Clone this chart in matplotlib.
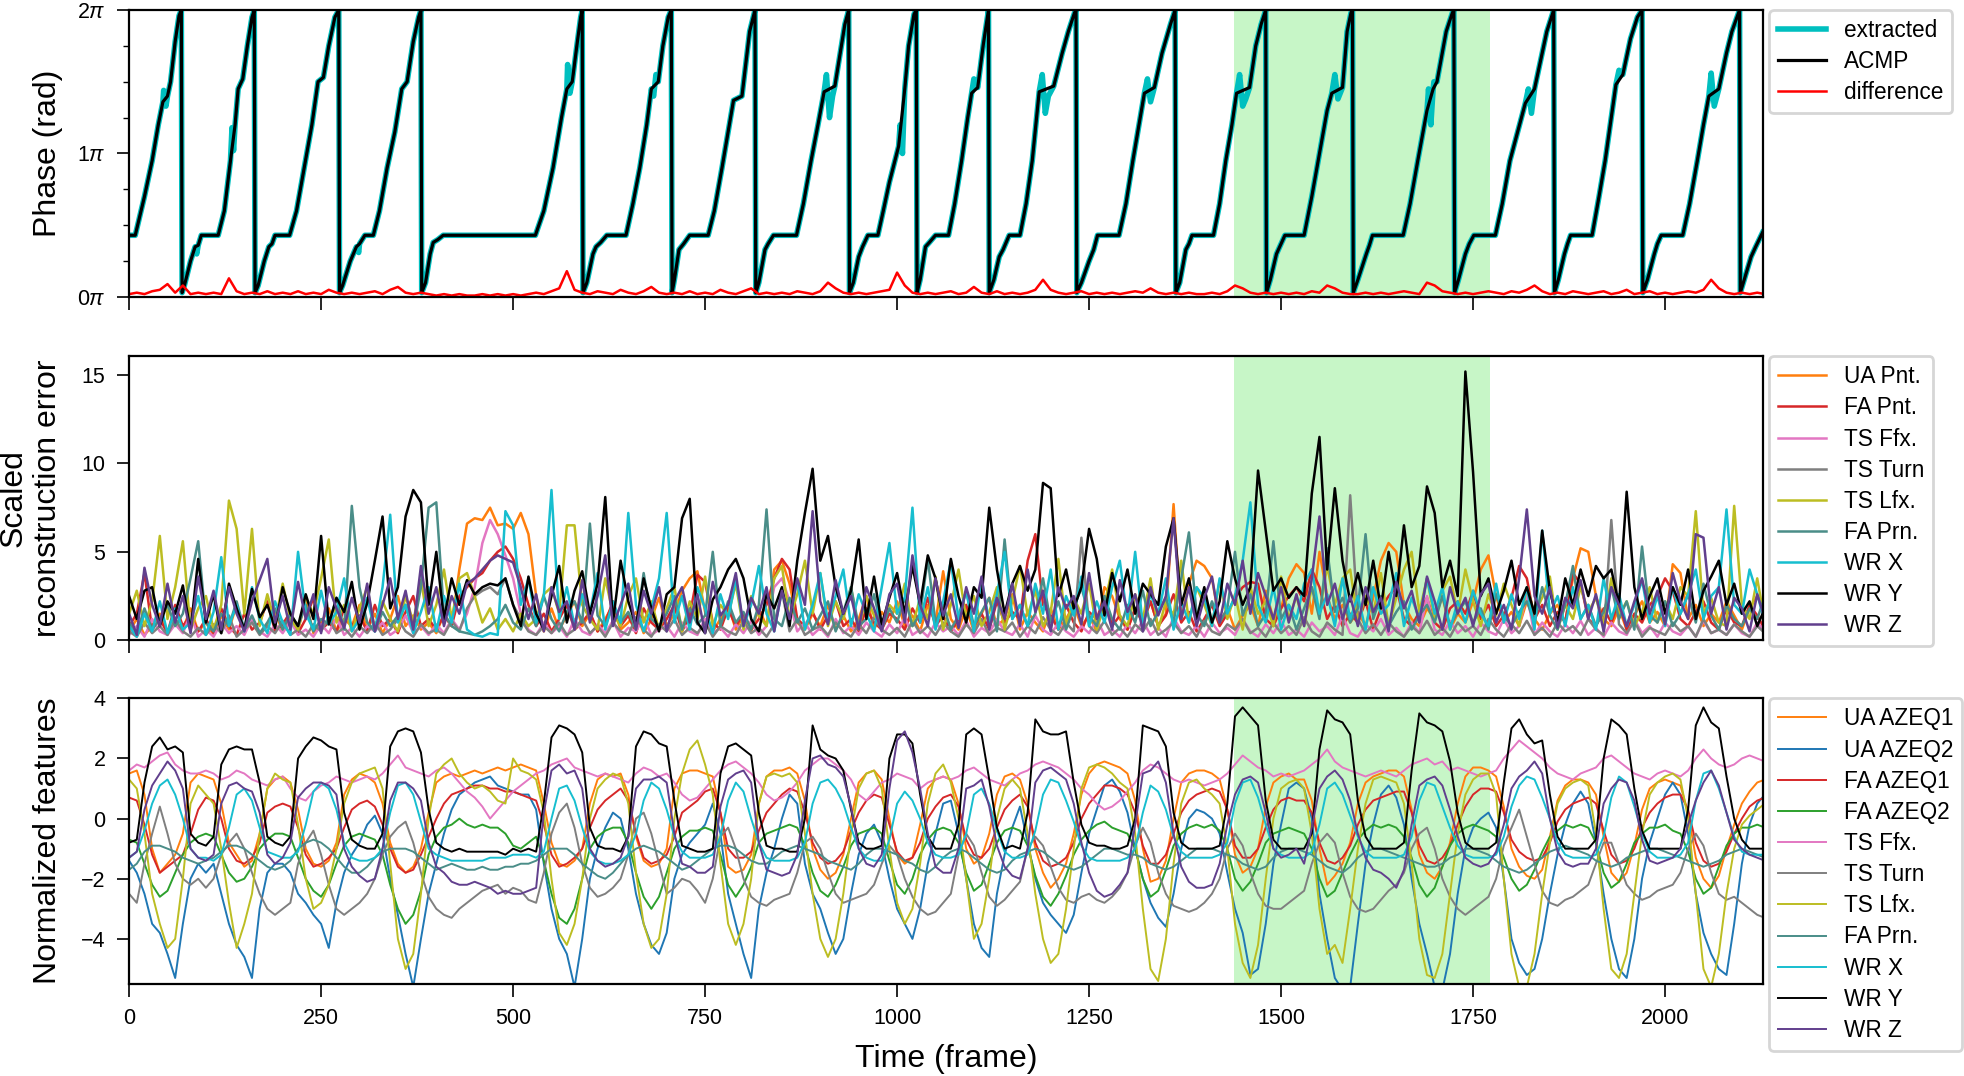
import numpy as np
import matplotlib
matplotlib.use("Agg")
import matplotlib.pyplot as plt
from matplotlib.ticker import MultipleLocator

plt.rcParams['font.family'] = ['Liberation Sans', 'DejaVu Sans']
plt.rcParams['mathtext.fontset'] = 'custom'
plt.rcParams['mathtext.rm'] = 'Liberation Sans'
plt.rcParams['mathtext.it'] = 'Liberation Sans:italic'

# sampling grid of the feature / error traces (every 10th frame)
FRAMES = np.arange(0, 2131, 10)
SPAN = (1439, 1772)   # highlighted segment

# ---- top panel: phase (in units of pi), knots of the ACMP sawtooth
ACMP_T = [0, 8, 20, 30, 38, 44, 50, 54, 60, 65, 68,
          69, 72, 80, 86, 90, 94, 116, 124, 132, 138, 142, 148, 154, 160, 163,
          164, 168, 176, 182, 186, 190, 209, 218, 228, 238, 246, 253, 260, 268, 273,
          274, 278, 288, 296, 300, 307, 318, 326, 336, 346, 355, 362, 370, 377, 380,
          381, 386, 392, 396, 402, 409, 529, 540, 552, 563, 570, 577, 583, 588, 590,
          591, 596, 604, 608, 614, 622, 647, 656, 665, 674, 680, 689, 695, 702, 706,
          707, 710, 716, 722, 730, 754, 762, 772, 780, 787, 798, 808, 815,
          816, 820, 828, 832, 839, 869, 878, 888, 897, 905, 919, 926, 932, 937,
          938, 943, 950, 955, 962, 975, 982, 990, 1002, 1010, 1015, 1022, 1025,
          1026, 1030, 1037, 1042, 1050, 1067, 1075, 1084, 1092, 1097, 1105, 1112, 1119,
          1120, 1126, 1133, 1138, 1146, 1160, 1168, 1176, 1185, 1204, 1215, 1223, 1231, 1233,
          1234, 1240, 1250, 1256, 1261, 1289, 1298, 1307, 1315, 1322, 1335, 1345, 1356, 1362,
          1363, 1368, 1376, 1380, 1384, 1412, 1420, 1428, 1436, 1442, 1459, 1467, 1474, 1480,
          1481, 1486, 1494, 1500, 1505, 1530, 1540, 1550, 1560, 1566, 1580, 1586, 1591, 1593,
          1594, 1600, 1611, 1615, 1619, 1659, 1668, 1678, 1690, 1698, 1703, 1715, 1723, 1725,
          1726, 1731, 1740, 1745, 1751, 1779, 1788, 1798, 1808, 1818, 1830, 1846, 1855,
          1856, 1861, 1869, 1873, 1877, 1905, 1914, 1922, 1930, 1936, 1945, 1955, 1964, 1970,
          1971, 1977, 1986, 1990, 1995, 2023, 2032, 2042, 2050, 2057, 2070, 2080, 2087, 2097,
          2098, 2103, 2112, 2118, 2126, 2127]
ACMP_V = [0.43, 0.43, 0.70, 0.95, 1.20, 1.36, 1.40, 1.50, 1.78, 1.96, 2.0,
          0.03, 0.08, 0.25, 0.35, 0.36, 0.43, 0.43, 0.60, 0.95, 1.20, 1.45, 1.52, 1.75, 1.95, 2.0,
          0.03, 0.08, 0.25, 0.35, 0.37, 0.43, 0.43, 0.60, 0.90, 1.20, 1.50, 1.53, 1.75, 1.95, 2.0,
          0.03, 0.08, 0.25, 0.35, 0.37, 0.43, 0.43, 0.60, 0.90, 1.15, 1.45, 1.50, 1.78, 1.95, 2.0,
          0.03, 0.10, 0.30, 0.38, 0.40, 0.43, 0.43, 0.60, 0.90, 1.25, 1.45, 1.50, 1.75, 1.95, 2.0,
          0.03, 0.10, 0.30, 0.35, 0.38, 0.43, 0.43, 0.65, 0.90, 1.20, 1.45, 1.50, 1.75, 1.95, 2.0,
          0.03, 0.12, 0.33, 0.37, 0.43, 0.43, 0.60, 0.90, 1.15, 1.37, 1.40, 1.85, 2.0,
          0.03, 0.10, 0.33, 0.37, 0.43, 0.43, 0.65, 0.95, 1.20, 1.43, 1.47, 1.70, 1.90, 2.0,
          0.03, 0.10, 0.28, 0.35, 0.43, 0.43, 0.60, 0.80, 1.05, 1.45, 1.75, 1.97, 2.0,
          0.03, 0.12, 0.35, 0.38, 0.43, 0.43, 0.65, 0.95, 1.25, 1.42, 1.46, 1.75, 2.0,
          0.03, 0.12, 0.28, 0.33, 0.43, 0.43, 0.65, 0.95, 1.43, 1.47, 1.70, 1.85, 1.98, 2.0,
          0.03, 0.10, 0.25, 0.33, 0.43, 0.43, 0.65, 0.95, 1.20, 1.42, 1.46, 1.70, 1.90, 2.0,
          0.03, 0.10, 0.33, 0.37, 0.43, 0.43, 0.65, 0.95, 1.20, 1.42, 1.46, 1.75, 1.90, 2.0,
          0.03, 0.12, 0.30, 0.37, 0.43, 0.43, 0.70, 1.00, 1.30, 1.42, 1.46, 1.85, 1.98, 2.0,
          0.03, 0.12, 0.30, 0.36, 0.43, 0.43, 0.65, 0.95, 1.30, 1.45, 1.50, 1.85, 1.98, 2.0,
          0.03, 0.12, 0.30, 0.37, 0.43, 0.43, 0.65, 0.95, 1.15, 1.35, 1.45, 1.85, 2.0,
          0.03, 0.12, 0.30, 0.37, 0.43, 0.43, 0.70, 0.95, 1.25, 1.48, 1.55, 1.80, 1.95, 2.0,
          0.03, 0.12, 0.30, 0.37, 0.43, 0.43, 0.65, 0.95, 1.20, 1.40, 1.45, 1.70, 1.85, 2.0,
          0.03, 0.12, 0.28, 0.35, 0.44, 0.45]
# extra wobble of the extracted phase around the ACMP curve
WOBBLE_T = [45, 48, 88, 134, 136, 299, 571, 574, 683, 686, 908, 912, 916, 1004, 1007,
            1100, 1189, 1193, 1197, 1326, 1330, 1446, 1450, 1454, 1570, 1574,
            1692, 1695, 1699, 1822, 1826, 1940, 2060, 2064]
WOBBLE_V = [1.44, 1.33, 0.30, 1.18, 1.02, 0.31, 1.62, 1.42, 1.40, 1.55, 1.55, 1.25, 1.40, 1.20, 1.00,
            1.52, 1.55, 1.28, 1.40, 1.52, 1.36, 1.55, 1.33, 1.38, 1.55, 1.38,
            1.45, 1.20, 1.50, 1.45, 1.28, 1.58, 1.56, 1.33]
DIFF = [0.02, 0.03, 0.02, 0.04, 0.05, 0.09, 0.03, 0.08, 0.02, 0.03,
        0.02, 0.03, 0.02, 0.13, 0.04, 0.02, 0.03, 0.02, 0.04, 0.02,
        0.03, 0.02, 0.04, 0.02, 0.03, 0.02, 0.05, 0.03, 0.02, 0.03,
        0.02, 0.03, 0.04, 0.02, 0.05, 0.07, 0.03, 0.02, 0.03, 0.02,
        0.01, 0.02, 0.01, 0.02, 0.01, 0.01, 0.02, 0.01, 0.02, 0.01,
        0.02, 0.01, 0.02, 0.03, 0.02, 0.04, 0.06, 0.18, 0.05, 0.03,
        0.02, 0.04, 0.03, 0.02, 0.05, 0.03, 0.02, 0.04, 0.07, 0.03,
        0.02, 0.03, 0.02, 0.04, 0.02, 0.03, 0.02, 0.05, 0.03, 0.02,
        0.04, 0.06, 0.02, 0.03, 0.02, 0.03, 0.02, 0.04, 0.03, 0.02,
        0.04, 0.10, 0.06, 0.03, 0.02, 0.03, 0.02, 0.03, 0.04, 0.05,
        0.17, 0.08, 0.03, 0.02, 0.03, 0.02, 0.03, 0.04, 0.02, 0.03,
        0.07, 0.03, 0.02, 0.04, 0.02, 0.03, 0.02, 0.03, 0.05, 0.12,
        0.05, 0.03, 0.02, 0.03, 0.04, 0.02, 0.03, 0.02, 0.03, 0.02,
        0.03, 0.04, 0.03, 0.06, 0.03, 0.02, 0.03, 0.02, 0.03, 0.02,
        0.02, 0.03, 0.02, 0.04, 0.08, 0.06, 0.03, 0.02, 0.03, 0.02,
        0.03, 0.02, 0.03, 0.02, 0.04, 0.03, 0.08, 0.06, 0.03, 0.02,
        0.02, 0.03, 0.02, 0.03, 0.02, 0.03, 0.04, 0.03, 0.02, 0.10,
        0.08, 0.04, 0.03, 0.02, 0.03, 0.02, 0.03, 0.04, 0.03, 0.02,
        0.04, 0.03, 0.05, 0.08, 0.04, 0.02, 0.03, 0.02, 0.04, 0.03,
        0.02, 0.03, 0.04, 0.02, 0.03, 0.05, 0.02, 0.03, 0.04, 0.02,
        0.03, 0.02, 0.03, 0.04, 0.03, 0.05, 0.12, 0.06, 0.03, 0.02,
        0.03, 0.02, 0.03, 0.02]

# ---- middle panel: scaled reconstruction error
ERR_LABELS = ["UA Pnt.", "FA Pnt.", "TS Ffx.", "TS Turn", "TS Lfx.", "FA Prn.", "WR X", "WR Y", "WR Z"]
ERR_UA_PNT = [0.5, 1.2, 0.3, 0.8, 1.5, 0.4, 1.0, 0.6, 1.8, 0.5,
              1.0, 0.3, 1.4, 0.6, 2.0, 0.5, 1.2, 0.4, 0.9, 1.6,
              0.5, 1.3, 0.6, 2.2, 0.4, 1.0, 1.8, 0.5, 1.2, 0.8,
              2.0, 0.6, 1.5, 0.4, 1.2, 2.5, 0.8, 1.4, 0.6, 1.0,
              0.4, 1.5, 0.8, 4.0, 6.6, 6.9, 6.8, 7.5, 6.5, 6.6,
              6.3, 7.2, 6.0, 2.5, 0.5, 1.8, 0.6, 1.4, 2.2, 0.8,
              1.5, 0.5, 1.2, 2.0, 0.6, 1.0, 1.6, 0.4, 1.2, 2.4,
              0.8, 1.5, 2.8, 3.5, 3.9, 1.6, 0.5, 1.2, 2.0, 0.6,
              1.4, 0.5, 1.8, 0.8, 4.0, 4.5, 3.2, 1.0, 0.6, 1.5,
              0.8, 2.0, 0.6, 1.4, 0.5, 1.2, 2.5, 0.6, 1.6, 1.0,
              2.2, 0.8, 1.4, 0.5, 2.0, 1.0, 3.9, 1.2, 0.6, 1.8,
              0.5, 1.5, 2.4, 0.8, 1.2, 2.6, 0.6, 1.6, 1.0, 0.5,
              1.8, 0.6, 1.2, 2.0, 0.8, 1.4, 0.5, 3.0, 2.5, 1.2,
              0.6, 1.8, 1.0, 2.2, 0.8, 1.5, 7.7, 1.2, 3.2, 4.5,
              4.2, 3.5, 1.0, 1.8, 0.6, 1.4, 2.0, 0.8, 2.8, 1.2,
              1.8, 3.5, 4.3, 3.8, 1.5, 5.0, 2.5, 1.2, 2.0, 1.0,
              1.6, 0.8, 2.4, 4.5, 5.5, 5.0, 2.0, 1.2, 0.8, 1.8,
              1.2, 2.5, 0.6, 1.5, 1.0, 2.2, 4.0, 4.8, 2.5, 1.0,
              1.6, 0.8, 2.2, 1.2, 0.6, 1.5, 2.0, 1.0, 3.5, 5.2,
              5.0, 2.5, 1.2, 0.8, 1.8, 0.6, 1.4, 2.2, 1.0, 1.6,
              0.8, 4.3, 3.8, 1.2, 2.0, 0.8, 1.5, 1.0, 2.2, 1.4,
              0.6, 1.8, 2.5, 2.0]
ERR_FA_PNT = [0.8, 1.5, 3.8, 0.6, 1.2, 0.4, 2.0, 0.8, 1.4, 0.5,
              1.2, 0.4, 1.8, 0.8, 0.3, 1.5, 0.6, 1.0, 2.2, 0.5,
              0.9, 1.6, 0.4, 1.2, 2.4, 0.6, 1.0, 0.5, 1.8, 0.8,
              1.4, 0.5, 2.0, 0.8, 1.2, 0.4, 1.6, 2.5, 0.8, 1.2,
              0.6, 1.4, 0.8, 2.5, 3.0, 3.5, 3.8, 4.5, 5.0, 5.3,
              4.6, 3.5, 2.0, 0.8, 1.5, 0.5, 1.2, 2.0, 0.6, 1.0,
              1.6, 0.5, 1.0, 2.2, 0.8, 1.4, 0.4, 1.8, 1.0, 0.6,
              1.2, 2.0, 0.5, 1.4, 3.7, 3.3, 1.0, 0.6, 1.8, 0.8,
              1.5, 0.6, 1.2, 2.0, 3.5, 4.6, 4.0, 1.2, 0.8, 1.6,
              0.6, 1.4, 2.2, 0.8, 1.2, 0.5, 1.8, 1.0, 0.6, 1.5,
              1.2, 0.6, 1.8, 1.0, 2.4, 0.8, 1.4, 0.5, 1.2, 2.0,
              0.8, 1.5, 0.6, 2.2, 1.0, 1.6, 1.2, 4.5, 6.0, 2.0,
              1.4, 0.6, 2.0, 1.0, 0.5, 1.6, 1.2, 2.5, 0.8, 1.4,
              0.6, 1.8, 1.0, 2.2, 0.8, 1.4, 2.6, 1.0, 1.6, 0.5,
              1.2, 2.0, 0.8, 1.5, 2.4, 3.0, 3.3, 3.2, 1.2, 0.8,
              1.8, 2.5, 3.0, 2.2, 4.0, 3.0, 1.2, 2.0, 0.8, 1.5,
              1.0, 2.2, 0.6, 1.8, 2.5, 3.0, 1.2, 0.8, 1.6, 2.4,
              1.0, 0.6, 1.8, 2.2, 1.5, 2.8, 1.2, 2.0, 0.8, 1.4,
              2.4, 4.2, 3.5, 1.2, 2.0, 0.8, 1.6, 1.0, 3.8, 3.2,
              1.2, 0.8, 1.8, 1.0, 2.2, 0.6, 1.5, 1.0, 2.0, 2.5,
              3.5, 2.8, 1.2, 0.8, 1.6, 2.2, 1.0, 0.6, 1.8, 1.0,
              0.8, 2.0, 1.4, 0.6]
ERR_TS_FFX = [0.3, 0.8, 0.2, 1.2, 0.5, 0.3, 0.9, 0.4, 1.5, 0.2,
              0.6, 0.2, 1.0, 0.4, 0.8, 0.3, 1.2, 0.5, 0.2, 0.9,
              0.4, 1.1, 0.3, 0.6, 0.2, 0.9, 0.4, 1.3, 0.3, 0.7,
              0.2, 0.8, 0.5, 1.0, 0.3, 0.6, 1.4, 0.4, 0.8, 0.3,
              0.9, 0.4, 1.2, 0.6, 1.5, 3.0, 5.5, 6.8, 6.0, 4.8,
              3.5, 1.5, 0.6, 0.3, 1.0, 0.4, 0.8, 0.2, 1.2, 0.5,
              0.3, 0.9, 0.4, 1.1, 0.2, 0.7, 0.5, 1.3, 0.3, 0.6,
              0.8, 0.2, 1.0, 0.5, 0.3, 1.2, 0.4, 0.7, 0.2, 0.9,
              0.4, 1.1, 0.3, 0.8, 3.0, 3.5, 2.2, 0.5, 1.0, 0.3,
              0.7, 0.2, 1.2, 0.4, 0.8, 0.3, 1.0, 0.5, 0.2, 0.9,
              0.4, 1.3, 0.3, 0.6, 0.2, 1.0, 0.5, 0.8, 0.3, 1.1,
              0.2, 0.7, 0.4, 1.2, 0.5, 0.3, 0.9, 0.2, 1.4, 0.6,
              0.3, 1.0, 0.5, 0.2, 0.8, 0.4, 1.2, 0.3, 0.6, 0.2,
              0.9, 0.4, 1.1, 0.3, 0.7, 0.2, 1.3, 0.5, 0.3, 0.8,
              0.2, 1.0, 0.4, 0.7, 0.3, 1.2, 0.5, 0.2, 0.9, 0.4,
              1.1, 0.3, 0.6, 0.2, 1.0, 0.5, 0.8, 0.3, 1.4, 0.4,
              0.2, 0.9, 0.5, 1.2, 0.3, 0.7, 0.2, 1.0, 0.4, 2.5,
              0.6, 0.3, 1.1, 0.4, 0.8, 0.2, 1.0, 0.5, 0.3, 1.2,
              0.4, 0.8, 2.6, 0.3, 1.0, 0.5, 0.2, 0.9, 0.4, 1.1,
              0.3, 0.7, 0.2, 1.0, 0.5, 0.3, 1.2, 0.4, 0.8, 0.2,
              1.0, 0.5, 0.3, 0.8, 0.2, 1.1, 0.4, 0.6, 0.3, 0.9,
              0.4, 0.2, 1.0, 0.5]
ERR_TS_TURN = [0.5, 0.2, 1.0, 0.4, 0.8, 0.3, 1.2, 0.5, 0.2, 0.7,
               0.3, 0.9, 0.4, 1.4, 0.2, 0.6, 1.0, 0.3, 0.8, 0.4,
               1.1, 0.3, 0.6, 0.2, 0.9, 0.5, 1.3, 0.4, 0.7, 0.2,
               0.8, 0.4, 1.0, 0.3, 0.6, 1.2, 0.5, 0.2, 0.9, 0.4,
               0.6, 0.3, 1.1, 0.5, 1.8, 2.5, 2.8, 3.0, 2.6, 3.5,
               2.0, 1.2, 0.5, 0.3, 0.8, 0.4, 1.0, 0.3, 0.6, 1.2,
               0.4, 0.8, 0.2, 1.0, 0.5, 0.3, 1.3, 0.6, 0.2, 0.9,
               0.5, 1.2, 0.3, 0.7, 0.4, 1.0, 0.2, 0.8, 0.5, 0.3,
               1.1, 0.4, 0.7, 0.2, 0.9, 2.8, 0.5, 1.2, 0.3, 0.6,
               0.8, 0.3, 1.0, 0.5, 0.2, 0.9, 0.4, 1.3, 0.6, 0.3,
               0.7, 0.2, 1.1, 0.4, 0.8, 0.3, 1.0, 0.5, 0.2, 0.9,
               0.4, 1.2, 0.3, 0.7, 0.5, 1.0, 0.2, 0.8, 0.4, 1.3,
               0.6, 0.3, 1.0, 0.5, 5.8, 0.8, 0.4, 1.1, 0.3, 0.7,
               0.2, 0.9, 0.5, 1.2, 0.3, 0.6, 1.0, 0.4, 0.8, 0.2,
               1.1, 0.5, 0.3, 0.9, 0.6, 1.2, 0.4, 0.7, 0.2, 1.0,
               0.4, 0.8, 0.3, 1.3, 0.5, 0.2, 1.0, 0.6, 0.3, 8.2,
               1.2, 0.4, 0.9, 0.3, 1.0, 0.5, 0.2, 0.8, 0.4, 1.1,
               0.3, 0.7, 0.2, 1.0, 0.5, 0.8, 0.3, 1.2, 0.6, 0.2,
               0.9, 0.4, 1.1, 0.3, 0.7, 0.2, 1.0, 0.5, 0.8, 0.3,
               1.2, 0.6, 0.3, 6.8, 0.9, 0.4, 1.1, 0.2, 0.7, 0.5,
               0.3, 1.0, 0.5, 0.8, 0.2, 1.2, 0.4, 0.6, 0.3, 0.9,
               0.5, 0.2, 0.8, 0.4]
ERR_TS_LFX = [1.5, 2.8, 0.8, 2.2, 5.9, 1.2, 3.0, 5.6, 0.6, 1.8,
              2.5, 0.6, 2.0, 7.9, 6.3, 1.5, 6.3, 0.8, 2.6, 1.0,
              3.2, 1.2, 0.6, 2.4, 1.5, 3.5, 5.7, 1.0, 2.0, 0.5,
              1.8, 3.0, 0.6, 2.2, 1.2, 0.5, 2.5, 1.0, 3.4, 0.8,
              2.0, 4.0, 1.2, 3.5, 3.8, 2.5, 1.0, 1.8, 0.6, 1.2,
              0.5, 1.5, 0.8, 1.2, 2.6, 3.0, 1.5, 6.5, 6.5, 2.0,
              1.2, 0.6, 3.5, 1.5, 0.8, 2.5, 3.5, 1.0, 2.2, 0.6,
              1.8, 3.0, 0.5, 2.2, 1.2, 3.6, 0.8, 2.0, 1.4, 3.2,
              0.6, 2.5, 1.4, 0.8, 3.5, 4.2, 1.2, 2.6, 4.5, 1.5,
              3.8, 0.8, 2.2, 1.2, 3.0, 0.6, 2.5, 1.4, 0.8, 2.0,
              1.5, 3.2, 0.8, 2.4, 1.2, 3.6, 0.6, 2.0, 4.0, 1.2,
              2.5, 0.8, 1.6, 3.0, 0.6, 2.2, 4.2, 1.4, 2.8, 0.8,
              1.6, 4.6, 0.8, 2.4, 1.5, 3.2, 0.6, 2.0, 4.0, 1.4,
              0.8, 2.6, 1.2, 3.5, 0.6, 2.2, 1.4, 4.5, 1.0, 3.0,
              2.0, 0.8, 3.4, 1.2, 2.6, 0.6, 3.0, 1.5, 2.2, 0.8,
              3.6, 1.2, 2.5, 0.8, 3.0, 1.5, 4.2, 2.0, 3.5, 4.0,
              1.0, 2.5, 1.5, 3.8, 0.8, 2.4, 4.0, 5.0, 1.6, 3.5,
              1.2, 2.8, 3.6, 1.5, 4.0, 2.2, 0.8, 2.6, 1.4, 3.2,
              2.0, 0.8, 3.0, 1.5, 2.4, 3.6, 0.6, 2.0, 1.2, 3.0,
              1.6, 2.4, 0.8, 3.5, 1.4, 2.2, 0.8, 1.6, 3.0, 1.0,
              2.2, 1.2, 3.0, 2.5, 7.3, 1.5, 2.4, 1.0, 0.8, 7.6,
              2.0, 1.2, 3.5, 1.0]
ERR_FA_PRN = [1.0, 0.4, 1.8, 0.6, 1.2, 2.0, 0.8, 1.5, 3.5, 5.6,
              1.0, 0.5, 1.5, 0.8, 2.2, 0.6, 1.4, 0.4, 1.0, 1.8,
              0.6, 1.5, 0.8, 2.0, 0.5, 1.2, 0.9, 2.4, 0.6, 7.6,
              3.0, 1.0, 0.5, 1.6, 0.8, 1.4, 2.0, 0.6, 3.0, 7.5,
              7.8, 1.5, 0.8, 0.5, 0.4, 0.3, 0.5, 0.8, 1.2, 2.0,
              1.0, 0.6, 1.8, 0.8, 2.5, 1.2, 0.5, 1.6, 2.2, 1.0,
              6.6, 1.4, 0.8, 2.0, 1.0, 1.6, 0.6, 3.8, 1.2, 0.8,
              1.5, 2.5, 0.6, 1.8, 0.9, 1.4, 5.0, 0.8, 2.2, 1.0,
              1.6, 0.6, 2.0, 7.4, 1.2, 0.8, 2.4, 1.0, 1.8, 0.6,
              1.4, 2.2, 0.5, 1.6, 3.0, 0.8, 1.2, 2.6, 0.6, 1.8,
              1.0, 2.4, 0.8, 1.5, 4.6, 1.0, 2.0, 0.6, 1.4, 2.8,
              0.8, 1.6, 2.4, 0.5, 5.7, 1.2, 2.0, 0.8, 1.5, 3.5,
              1.0, 2.2, 0.6, 1.8, 3.0, 1.4, 0.8, 2.5, 1.2, 0.6,
              2.0, 1.0, 2.8, 0.8, 1.6, 2.4, 1.0, 3.5, 6.1, 1.5,
              0.8, 2.2, 1.0, 1.8, 5.0, 1.4, 2.6, 0.8, 1.5, 5.6,
              1.2, 2.0, 0.6, 1.8, 3.0, 1.2, 5.2, 1.6, 2.4, 1.0,
              1.8, 6.0, 1.2, 2.5, 0.8, 1.6, 2.2, 0.6, 1.4, 2.0,
              1.0, 2.5, 0.8, 1.6, 2.2, 1.0, 1.8, 0.6, 2.6, 1.4,
              0.8, 1.6, 2.2, 1.0, 3.0, 1.4, 0.6, 2.0, 4.2, 1.2,
              2.0, 0.8, 1.6, 3.0, 1.2, 2.2, 0.6, 5.3, 1.4, 1.0,
              2.2, 0.8, 1.5, 2.6, 1.0, 3.2, 1.4, 0.6, 2.0, 1.2,
              0.8, 1.8, 1.2, 2.5]
ERR_WR_X = [0.8, 0.2, 1.5, 0.5, 2.2, 0.4, 1.8, 0.6, 1.0, 2.5,
            0.3, 1.6, 4.7, 0.8, 2.0, 0.5, 3.0, 1.2, 0.4, 2.2,
            1.0, 0.3, 5.0, 1.5, 0.6, 2.8, 0.9, 1.6, 3.5, 0.5,
            1.2, 2.4, 0.5, 3.0, 7.1, 1.0, 2.0, 0.4, 1.6, 3.0,
            0.5, 2.5, 1.0, 3.2, 0.6, 0.3, 0.2, 0.4, 0.3, 7.3,
            6.5, 2.0, 3.5, 1.0, 2.5, 8.5, 1.2, 3.0, 0.8, 2.6,
            1.5, 3.8, 0.6, 2.2, 1.0, 7.2, 2.0, 0.5, 1.8, 3.5,
            7.2, 1.0, 2.5, 0.6, 3.0, 1.8, 0.4, 2.6, 1.2, 3.5,
            0.8, 2.0, 4.2, 1.5, 0.5, 2.8, 1.2, 3.4, 0.6, 2.0,
            3.8, 1.0, 2.5, 4.0, 0.8, 2.6, 1.5, 0.5, 3.0, 5.5,
            1.5, 2.4, 7.5, 1.0, 3.0, 0.6, 2.2, 4.5, 1.2, 2.8,
            0.5, 3.5, 1.0, 2.6, 5.0, 1.2, 2.0, 0.8, 3.2, 1.5,
            4.0, 0.6, 2.5, 1.4, 3.6, 0.8, 2.2, 1.0, 3.0, 4.5,
            1.2, 5.0, 0.8, 2.6, 1.5, 3.5, 0.6, 2.2, 1.0, 3.0,
            2.4, 0.8, 3.5, 1.5, 2.5, 4.5, 7.8, 2.0, 1.0, 3.0,
            0.6, 2.0, 1.2, 3.2, 4.0, 1.5, 2.6, 0.8, 3.5, 1.2,
            2.5, 0.6, 3.0, 1.5, 2.0, 3.8, 0.8, 2.4, 1.2, 3.5,
            1.5, 3.0, 0.6, 2.2, 1.0, 2.8, 1.5, 0.8, 3.2, 1.0,
            2.6, 1.2, 3.0, 0.6, 6.2, 1.5, 2.5, 0.8, 3.0, 1.2,
            2.0, 0.6, 3.5, 1.2, 2.6, 0.8, 2.0, 3.4, 1.0, 2.5,
            0.8, 3.0, 1.5, 2.6, 4.0, 1.2, 2.5, 3.0, 7.4, 2.0,
            1.5, 4.0, 2.6, 1.0]
ERR_WR_Y = [2.5, 1.2, 2.8, 3.0, 0.8, 2.2, 1.5, 3.1, 0.5, 4.6,
            1.0, 2.6, 0.4, 3.2, 1.8, 0.6, 2.9, 1.3, 2.0, 0.7,
            3.0, 1.5, 0.8, 2.6, 1.2, 5.9, 0.9, 2.4, 1.6, 3.3,
            0.6, 2.1, 4.5, 7.0, 1.8, 3.0, 7.0, 8.5, 7.8, 2.0,
            5.0, 1.2, 3.5, 2.0, 3.4, 2.6, 3.0, 3.2, 3.1, 3.5,
            2.0, 0.8, 3.6, 1.5, 0.6, 2.5, 4.2, 1.0, 2.8, 3.9,
            1.5, 3.2, 8.1, 1.0, 4.5, 2.2, 0.8, 3.5, 1.8, 0.5,
            2.6, 3.0, 6.9, 8.0, 1.0, 0.4, 2.3, 3.0, 4.0, 4.6,
            3.5, 1.2, 0.5, 2.6, 1.8, 3.0, 0.8, 4.5, 7.2, 9.7,
            4.5, 5.9, 3.0, 1.5, 2.8, 5.7, 1.2, 3.6, 0.9, 2.4,
            3.8, 1.5, 4.2, 2.0, 4.8, 3.5, 1.2, 4.6, 2.5, 1.0,
            3.0, 2.4, 7.5, 4.0, 1.5, 3.2, 4.2, 2.8, 4.0, 8.9,
            8.6, 2.5, 4.0, 1.8, 3.0, 6.3, 4.6, 1.4, 3.8, 2.2,
            4.0, 1.5, 3.2, 2.6, 2.0, 5.3, 6.9, 2.0, 3.5, 1.2,
            3.0, 1.0, 2.2, 5.6, 3.5, 2.0, 3.0, 9.6, 6.2, 2.8,
            3.5, 2.4, 3.0, 2.5, 8.3, 11.5, 4.0, 8.6, 4.5, 2.2,
            3.8, 2.0, 4.5, 1.8, 5.0, 2.5, 6.5, 3.0, 4.2, 8.7,
            7.2, 3.0, 4.5, 2.5, 15.2, 9.5, 2.5, 3.5, 1.5, 2.8,
            4.5, 2.0, 3.0, 1.5, 6.2, 2.8, 1.0, 3.5, 2.0, 4.0,
            2.5, 4.2, 3.5, 4.0, 2.0, 8.4, 3.0, 1.2, 2.5, 3.5,
            1.5, 3.0, 2.0, 4.0, 1.2, 2.8, 3.6, 4.5, 2.0, 3.2,
            1.5, 2.2, 0.8, 1.8]
ERR_WR_Z = [1.5, 0.3, 4.1, 2.0, 0.8, 3.2, 1.0, 2.5, 0.4, 3.6,
            1.2, 2.8, 0.6, 3.0, 1.5, 0.5, 2.2, 3.4, 4.6, 1.0,
            2.5, 0.6, 3.3, 1.2, 2.6, 0.4, 3.0, 1.8, 0.7, 2.4,
            1.0, 3.2, 0.5, 2.0, 3.5, 1.2, 2.8, 0.6, 4.2, 1.5,
            3.0, 0.8, 2.5, 1.5, 3.2, 3.5, 4.0, 4.5, 4.8, 4.6,
            4.4, 3.0, 1.2, 2.6, 0.5, 3.0, 1.6, 2.2, 0.6, 3.4,
            1.0, 2.5, 4.8, 0.8, 2.0, 3.2, 0.6, 2.8, 1.5, 3.0,
            0.5, 2.2, 3.0, 1.0, 2.6, 0.4, 3.3, 1.4, 2.0, 3.8,
            0.8, 2.4, 1.5, 3.0, 0.5, 2.8, 1.2, 3.5, 2.0, 7.3,
            2.2, 0.9, 3.4, 1.5, 2.5, 0.6, 3.0, 1.8, 0.5, 2.6,
            3.2, 1.0, 4.8, 2.0, 0.8, 3.5, 1.4, 2.6, 0.7, 3.0,
            1.5, 3.6, 0.6, 2.4, 1.2, 3.2, 0.8, 4.0, 1.6, 2.8,
            0.5, 3.0, 1.8, 2.5, 0.9, 3.8, 1.2, 2.2, 0.6, 3.4,
            1.6, 2.6, 0.5, 3.0, 1.4, 2.5, 6.9, 1.2, 3.0, 0.8,
            2.4, 3.6, 1.0, 3.2, 2.0, 4.5, 1.5, 3.8, 2.5, 1.2,
            3.0, 1.0, 2.6, 0.8, 3.5, 7.0, 2.0, 3.2, 1.2, 2.5,
            0.8, 3.0, 1.6, 2.4, 0.5, 3.3, 1.8, 2.8, 1.0, 3.6,
            2.2, 0.6, 3.0, 1.5, 2.4, 0.8, 2.6, 3.2, 1.0, 2.0,
            0.6, 3.5, 7.4, 2.5, 1.5, 3.0, 0.7, 2.4, 1.8, 3.4,
            1.2, 2.6, 0.5, 3.0, 2.0, 0.8, 2.2, 3.5, 1.5, 2.8,
            0.9, 3.8, 2.2, 1.2, 6.0, 5.8, 1.5, 3.0, 0.6, 2.4,
            1.8, 0.5, 2.6, 1.2]

# ---- bottom panel: normalized features
FEAT_LABELS = ["UA AZEQ1", "UA AZEQ2", "FA AZEQ1", "FA AZEQ2", "TS Ffx.", "TS Turn",
               "TS Lfx.", "FA Prn.", "WR X", "WR Y", "WR Z"]
UA_AZEQ1 = [1.5, 1.6, 0.8, -1.0, -1.8, -1.5, -1.2, -0.5, 1.2, 1.5,
            1.4, 1.3, 0.5, -0.8, -1.2, -1.6, -1.4, -0.5, 1.0, 1.3,
            1.4, 1.2, 0.3, -1.0, -1.5, -1.6, -1.4, -0.8, 0.8, 1.3,
            1.5, 1.4, 1.2, 0.5, -0.8, -1.5, -1.8, -1.6, -1.0, 0.2,
            1.2, 1.4, 1.5, 1.4, 1.5, 1.6, 1.5, 1.6, 1.7, 1.6,
            1.7, 1.8, 1.7, 1.6, 0.5, -0.8, -1.5, -1.6, -1.4, -1.0,
            0.5, 1.3, 1.5, 1.4, 1.5, 0.8, -0.6, -1.4, -1.6, -1.5,
            -1.0, 1.0, 1.5, 1.6, 1.6, 1.5, 1.4, 0.2, -1.6, -1.8,
            -1.7, -1.2, 0.5, 1.4, 1.6, 1.6, 1.7, 1.5, 0.6, -1.0,
            -1.7, -2.0, -1.8, -1.2, 0.0, 1.2, 1.5, 1.6, 1.3, 0.0,
            -1.2, -1.5, -1.3, -0.2, 1.0, 1.3, 1.4, 1.3, 0.5, -1.0,
            -1.5, -1.3, -0.5, 0.8, 1.4, 1.5, 1.3, 0.5, -1.0, -1.8,
            -2.3, -2.0, -1.5, -0.5, 0.8, 1.5, 1.8, 1.9, 1.8, 1.7,
            1.5, 0.6, -1.0, -2.1, -2.0, -1.4, 0.0, 1.2, 1.5, 1.6,
            1.6, 1.5, 1.3, 0.3, -1.2, -1.8, -1.6, -1.0, 0.4, 1.2,
            1.4, 1.5, 1.3, 1.3, 0.6, -1.0, -2.2, -1.9, -1.5, -0.8,
            0.5, 1.2, 1.4, 1.5, 1.6, 1.6, 1.4, 0.3, -1.2, -1.8,
            -2.0, -1.6, -0.8, 0.5, 1.4, 1.7, 1.7, 1.6, 1.4, 0.4,
            -1.0, -1.6, -1.9, -2.0, -1.7, -0.6, 0.6, 1.1, 1.3, 1.3,
            1.2, 0.8, -0.6, -1.8, -2.1, -1.8, -0.9, 0.3, 1.0, 1.2,
            1.3, 1.2, 1.1, 0.2, -1.3, -2.0, -2.3, -1.9, -1.0, -0.2,
            0.5, 0.9, 1.2, 1.3]
UA_AZEQ2 = [-1.4, -1.8, -2.5, -3.5, -3.8, -4.5, -5.3, -3.5, -2.0, -1.5,
            -1.8, -1.5, -2.5, -3.5, -4.2, -4.6, -5.3, -3.0, -1.8, -1.5,
            -1.5, -1.8, -2.5, -2.8, -3.2, -3.5, -4.3, -2.8, -1.8, -1.2,
            -0.8, -0.2, 0.1, -0.5, -2.0, -3.2, -4.5, -5.6, -4.0, -2.5,
            -1.5, -0.5, 0.3, 0.8, 1.0, 1.2, 1.3, 1.4, 1.1, 1.0,
            0.9, 0.8, 0.8, 0.3, -1.5, -3.0, -4.0, -4.5, -5.6, -4.0,
            -2.0, -1.0, -0.3, 0.2, 0.0, -1.0, -2.5, -3.5, -4.2, -4.5,
            -3.8, -2.0, -1.2, -0.8, -0.5, -0.2, 0.5, -0.5, -2.5, -3.5,
            -4.5, -5.3, -3.0, -1.8, -1.0, 0.0, 0.8, 0.5, -1.5, -2.5,
            -3.0, -3.8, -4.5, -4.0, -2.5, -1.2, -0.5, -0.2, -0.8, -2.0,
            -3.0, -3.5, -4.0, -3.0, -1.5, -0.5, 0.5, 0.6, -0.5, -2.0,
            -3.5, -4.3, -4.6, -2.5, -1.2, -0.3, 0.4, -0.8, -2.0, -2.8,
            -3.2, -3.5, -3.8, -3.2, -1.8, -0.5, 0.3, 1.1, 1.3, 0.9,
            0.2, -1.0, -2.0, -2.8, -3.3, -3.6, -2.5, -1.0, 0.0, 0.3,
            0.2, 0.0, -0.5, -1.8, -3.0, -3.8, -5.2, -5.0, -3.5, -1.5,
            -0.2, 1.0, 1.2, 1.0, 0.0, -2.5, -4.0, -5.3, -5.7, -5.6,
            -3.5, -1.5, -0.2, 0.8, 1.1, 0.7, -0.2, -2.0, -3.5, -4.5,
            -5.6, -5.7, -4.5, -2.5, -1.0, -0.3, 0.0, 0.2, -0.3, -2.0,
            -4.0, -4.8, -5.2, -5.0, -4.0, -2.5, -1.2, -0.2, 0.5, 0.9,
            0.5, -0.8, -2.5, -4.0, -5.0, -5.3, -4.0, -2.0, -0.8, 0.0,
            0.8, 1.2, 0.8, -0.5, -2.5, -3.8, -4.5, -5.0, -5.2, -3.5,
            -1.5, -0.2, 0.5, 0.8]
FA_AZEQ1 = [0.7, 0.6, -0.2, -1.2, -1.8, -1.6, -1.4, -1.2, -0.5, 0.3,
            0.7, 0.6, 0.0, -1.0, -1.4, -1.5, -1.3, -0.8, 0.2, 0.4,
            0.5, 0.4, -0.3, -1.2, -1.6, -1.5, -1.3, -1.0, -0.3, 0.3,
            0.5, 0.6, 0.4, -0.2, -1.0, -1.6, -1.8, -1.7, -1.2, -0.6,
            0.0, 0.5, 0.8, 0.9, 1.0, 1.1, 1.1, 1.0, 1.0, 0.9,
            0.9, 0.8, 0.7, 0.6, -0.2, -1.2, -1.6, -1.5, -1.3, -1.0,
            -0.3, 0.3, 0.6, 0.8, 1.0, 0.6, -0.5, -1.3, -1.5, -1.4,
            -1.2, -0.6, 0.2, 0.4, 0.6, 0.9, 1.0, 0.2, -1.0, -1.3,
            -1.3, -1.1, -0.4, 0.2, 0.5, 0.8, 1.0, 0.9, 0.2, -0.8,
            -1.3, -1.5, -1.4, -1.1, -0.4, 0.2, 0.6, 0.8, 0.7, -0.2,
            -1.1, -1.4, -1.3, -0.8, 0.0, 0.4, 0.7, 0.8, 0.4, -0.7,
            -1.2, -1.3, -1.0, -0.3, 0.3, 0.6, 0.8, 0.4, -0.8, -1.4,
            -1.6, -1.5, -1.3, -0.8, 0.0, 0.5, 0.8, 1.1, 1.1, 1.0,
            0.8, 0.2, -0.9, -1.5, -1.5, -1.2, -0.5, 0.2, 0.6, 0.8,
            0.9, 1.0, 0.9, 0.3, -0.9, -1.3, -1.3, -1.0, -0.3, 0.3,
            0.6, 0.7, 0.6, 0.6, 0.2, -0.8, -1.4, -1.5, -1.3, -0.9,
            -0.2, 0.3, 0.6, 0.7, 0.8, 0.9, 0.9, 0.2, -0.9, -1.4,
            -1.5, -1.3, -0.9, -0.2, 0.4, 0.8, 1.0, 1.0, 0.9, 0.2,
            -0.7, -1.1, -1.3, -1.4, -1.3, -0.8, -0.1, 0.3, 0.5, 0.6,
            0.7, 0.5, -0.4, -1.2, -1.5, -1.4, -1.0, -0.3, 0.2, 0.5,
            0.7, 0.8, 0.8, 0.3, -0.8, -1.4, -1.6, -1.5, -1.1, -0.5,
            0.0, 0.4, 0.6, 0.7]
FA_AZEQ2 = [-0.7, -0.8, -1.5, -2.2, -2.6, -2.4, -1.8, -1.2, -0.8, -0.6,
            -0.5, -0.6, -1.2, -1.8, -2.1, -2.0, -1.6, -1.0, -0.7, -0.5,
            -0.5, -0.6, -1.3, -2.0, -2.4, -2.6, -2.2, -1.5, -0.9, -0.6,
            -0.5, -0.6, -0.7, -1.2, -2.2, -3.0, -3.5, -3.2, -2.4, -1.2,
            -0.6, -0.3, -0.2, 0.0, -0.2, -0.3, -0.2, -0.3, -0.3, -0.5,
            -0.9, -1.0, -0.8, -0.6, -1.4, -2.5, -3.3, -3.5, -3.0, -2.0,
            -1.0, -0.6, -0.4, -0.3, -0.3, -0.8, -1.8, -2.6, -3.0, -2.6,
            -1.8, -1.0, -0.6, -0.4, -0.4, -0.3, -0.4, -1.2, -2.2, -2.6,
            -2.2, -1.6, -0.8, -0.5, -0.4, -0.3, -0.2, -0.3, -0.9, -1.8,
            -2.4, -2.6, -2.2, -1.6, -0.9, -0.5, -0.4, -0.3, -0.5, -1.4,
            -2.2, -2.5, -2.0, -1.2, -0.7, -0.4, -0.3, -0.4, -0.8, -1.8,
            -2.4, -2.2, -1.5, -0.8, -0.4, -0.3, -0.4, -0.9, -1.9, -2.6,
            -2.9, -2.5, -1.9, -1.2, -0.7, -0.4, -0.2, -0.1, -0.3, -0.4,
            -0.5, -1.0, -2.0, -2.6, -2.4, -1.7, -0.9, -0.5, -0.3, -0.2,
            -0.3, -0.2, -0.4, -1.0, -2.0, -2.4, -2.1, -1.5, -0.8, -0.5,
            -0.4, -0.3, -0.4, -0.5, -1.0, -2.0, -2.6, -2.4, -1.8, -1.2,
            -0.7, -0.4, -0.2, -0.3, -0.2, -0.3, -0.6, -1.3, -2.2, -2.6,
            -2.3, -1.6, -0.9, -0.5, -0.3, -0.2, -0.3, -0.4, -0.6, -1.3,
            -2.0, -2.4, -2.2, -1.7, -1.1, -0.6, -0.4, -0.2, -0.3, -0.2,
            -0.3, -0.8, -1.8, -2.3, -2.1, -1.5, -0.8, -0.5, -0.3, -0.3,
            -0.2, -0.4, -0.5, -1.1, -2.0, -2.5, -2.3, -1.6, -0.9, -0.5,
            -0.3, -0.3, -0.2, -0.3]
TS_FFX = [1.6, 1.8, 1.7, 1.9, 2.1, 2.2, 1.8, 1.6, 1.5, 1.5,
          1.6, 1.5, 1.3, 1.4, 1.6, 1.5, 1.3, 1.2, 1.1, 1.3,
          1.4, 1.0, 0.7, 0.6, 0.9, 1.1, 1.2, 1.4, 1.3, 1.2,
          1.3, 1.4, 1.3, 1.5, 1.8, 2.1, 1.7, 1.6, 1.5, 1.4,
          1.6, 1.7, 1.5, 1.2, 0.9, 0.7, 0.4, 0.0, 0.3, 0.6,
          0.9, 1.1, 1.3, 1.5, 1.6, 1.8, 1.9, 2.0, 1.7, 1.6,
          1.5, 1.4, 1.5, 1.4, 1.3, 1.2, 1.5, 1.7, 1.6, 1.4,
          1.5, 1.2, 0.8, 0.6, 0.7, 1.0, 1.3, 1.6, 1.8, 1.9,
          1.7, 1.5, 1.2, 0.8, 0.6, 0.7, 0.9, 1.2, 1.6, 1.8,
          2.0, 2.0, 1.8, 1.6, 1.3, 0.8, 0.6, 0.9, 1.2, 1.3,
          1.5, 1.4, 1.3, 1.0, 1.2, 1.3, 1.4, 1.3, 1.4, 1.6,
          1.7, 1.5, 1.3, 1.2, 1.1, 1.3, 1.5, 1.6, 1.8, 1.9,
          1.8, 1.7, 1.5, 1.3, 1.0, 0.8, 0.5, 0.3, 0.4, 0.6,
          0.9, 1.2, 1.6, 1.8, 1.7, 1.5, 1.3, 1.2, 1.3, 1.2,
          1.1, 1.2, 1.3, 1.5, 1.8, 2.1, 1.9, 1.7, 1.6, 1.4,
          1.5, 1.4, 1.5, 1.6, 1.8, 2.0, 2.3, 1.9, 1.7, 1.6,
          1.5, 1.4, 1.5, 1.6, 1.5, 1.4, 1.6, 1.8, 1.9, 2.0,
          1.8, 1.9, 1.6, 1.7, 1.6, 1.5, 1.4, 1.5, 1.6, 2.0,
          2.3, 2.6, 2.4, 2.2, 2.0, 1.7, 1.5, 1.4, 1.3, 1.5,
          1.6, 1.7, 2.0, 2.1, 1.9, 1.7, 1.5, 1.4, 1.3, 1.5,
          1.6, 1.5, 1.4, 1.6, 2.0, 2.3, 2.0, 1.8, 1.7, 1.8,
          2.0, 2.1, 2.0, 1.9]
TS_TURN = [-2.5, -2.8, -1.5, -0.5, 0.4, -0.5, -1.5, -2.0, -2.2, -2.0,
           -2.3, -2.0, -1.2, -0.8, -0.5, -1.0, -1.8, -2.5, -3.0, -3.2,
           -3.0, -2.8, -1.5, -0.8, -0.4, -1.2, -2.2, -3.0, -3.2, -3.0,
           -2.8, -2.5, -2.0, -1.2, -0.6, -0.3, -0.1, -0.8, -1.8, -2.6,
           -3.0, -3.2, -3.3, -3.0, -2.8, -2.6, -2.4, -2.3, -2.2, -2.5,
           -2.3, -2.4, -2.7, -2.8, -1.8, -0.5, 0.2, 0.5, -0.3, -1.5,
           -2.3, -2.6, -2.5, -2.3, -2.0, -1.2, 0.0, 0.2, -0.5, -1.5,
           -2.5, -2.3, -2.0, -2.1, -2.4, -2.8, -2.0, -0.6, -0.3, -1.0,
           -2.0, -2.6, -2.8, -2.9, -2.7, -2.6, -2.5, -1.8, -0.8, -0.6,
           -1.0, -1.8, -2.5, -2.8, -2.7, -2.6, -2.5, -2.2, -1.5, -0.9,
           -1.2, -2.0, -2.6, -3.0, -3.2, -3.1, -2.8, -2.5, -1.2, -0.5,
           -0.9, -1.8, -2.6, -2.9, -2.7, -2.4, -2.1, -1.0, -0.6, -0.9,
           -1.6, -2.3, -2.7, -2.8, -2.6, -2.5, -2.7, -2.8, -2.6, -2.3,
           -1.8, -0.9, -0.3, -0.8, -1.8, -2.5, -2.9, -3.0, -3.1, -3.0,
           -2.8, -2.5, -2.0, -1.0, -0.5, -0.9, -1.8, -2.5, -2.9, -3.0,
           -3.0, -2.8, -2.6, -2.4, -1.5, -0.8, -0.5, -0.8, -1.8, -2.6,
           -3.0, -3.1, -3.0, -2.7, -2.4, -2.2, -1.8, -1.0, -0.5, -0.3,
           -1.0, -2.0, -2.6, -3.0, -3.2, -3.0, -2.8, -2.6, -2.0, -0.9,
           -0.3, 0.3, -0.6, -1.5, -2.4, -2.8, -2.9, -2.7, -2.6, -2.4,
           -2.2, -1.5, -0.8, -0.8, -1.5, -2.2, -2.5, -2.7, -2.6, -2.4,
           -2.3, -2.2, -1.8, -1.0, -0.5, -0.9, -1.8, -2.5, -2.7, -2.6,
           -2.8, -3.0, -3.2, -3.3]
TS_LFX = [1.3, 1.0, -0.5, -2.5, -3.5, -4.3, -4.0, -2.0, 0.5, 1.1,
          0.8, 0.5, -1.0, -2.8, -4.3, -3.5, -2.5, -0.5, 1.0, 1.5,
          1.3, 1.2, -0.2, -2.0, -3.0, -2.8, -2.2, -1.0, 0.5, 1.2,
          1.5, 1.6, 1.7, 1.0, -1.5, -4.0, -5.0, -4.5, -2.5, 0.0,
          1.5, 1.8, 2.0, 1.5, 1.2, 1.0, 1.1, 0.9, 0.6, 0.5,
          2.0, 1.6, 1.5, 1.3, 0.2, -2.0, -3.8, -4.2, -3.5, -2.0,
          0.0, 1.0, 1.3, 1.5, 1.4, 0.5, -1.8, -3.5, -4.3, -4.0,
          -2.5, 0.0, 1.5, 2.3, 2.6, 1.8, 0.8, -1.5, -3.5, -4.2,
          -3.5, -2.0, 0.5, 1.4, 1.5, 1.4, 1.5, 1.2, -0.5, -2.5,
          -4.0, -4.6, -4.0, -2.5, -0.5, 1.0, 1.5, 1.6, 1.0, -1.0,
          -2.8, -3.5, -3.0, -1.5, 0.5, 1.5, 1.8, 1.2, 0.0, -2.0,
          -4.0, -3.5, -2.0, 0.0, 1.0, 1.3, 1.0, -0.5, -2.5, -4.0,
          -4.8, -4.5, -3.0, -1.0, 1.0, 1.7, 1.8, 1.7, 1.5, 1.2,
          1.0, -0.5, -3.0, -5.0, -5.4, -4.0, -1.5, 0.5, 1.2, 1.3,
          1.0, 0.8, 0.5, -1.0, -3.5, -4.8, -5.3, -4.2, -2.0, 0.0,
          1.0, 1.2, 1.3, 1.0, -0.5, -3.0, -4.5, -4.2, -4.8, -3.0,
          -1.0, 0.5, 1.3, 1.4, 1.3, 1.2, 0.5, -1.5, -4.0, -5.2,
          -5.3, -4.5, -2.5, -0.5, 0.8, 1.3, 1.5, 1.5, 0.8, -2.0,
          -4.5, -5.6, -5.6, -4.5, -2.5, -0.8, 0.5, 1.0, 1.2, 1.3,
          1.1, -0.5, -3.0, -5.0, -5.3, -4.5, -2.5, -0.5, 0.8, 1.2,
          1.4, 1.5, 1.3, 0.0, -2.5, -5.0, -5.6, -4.5, -2.5, -1.0,
          -0.2, 0.1, 0.3, 0.5]
FA_PRN = [-1.7, -1.5, -1.1, -0.9, -0.9, -1.0, -1.1, -1.3, -1.4, -1.5,
          -1.4, -1.3, -1.1, -0.9, -0.9, -1.0, -1.2, -1.4, -1.6, -1.7,
          -1.6, -1.4, -1.0, -0.8, -0.7, -0.8, -1.0, -1.3, -1.6, -1.8,
          -1.8, -1.6, -1.3, -1.1, -1.0, -1.0, -1.0, -1.1, -1.3, -1.5,
          -1.7, -1.6, -1.5, -1.6, -1.7, -1.7, -1.6, -1.7, -1.7, -1.6,
          -1.6, -1.5, -1.5, -1.4, -1.2, -1.0, -1.0, -1.0, -1.2, -1.5,
          -1.7, -1.9, -2.0, -1.8, -1.5, -1.2, -1.0, -0.9, -1.0, -1.1,
          -1.3, -1.5, -1.7, -1.6, -1.4, -1.2, -1.0, -0.9, -0.9, -1.0,
          -1.2, -1.4, -1.5, -1.5, -1.3, -1.1, -1.0, -0.9, -1.0, -1.1,
          -1.2, -1.4, -1.5, -1.6, -1.7, -1.5, -1.2, -1.0, -1.0, -1.1,
          -1.2, -1.4, -1.5, -1.7, -1.8, -1.6, -1.3, -1.1, -1.0, -1.1,
          -1.3, -1.5, -1.7, -1.8, -1.7, -1.4, -1.2, -1.1, -1.0, -1.1,
          -1.3, -1.5, -1.6, -1.7, -1.6, -1.4, -1.2, -1.0, -1.0, -1.1,
          -1.2, -1.2, -1.3, -1.5, -1.6, -1.7, -1.6, -1.4, -1.2, -1.0,
          -1.0, -1.0, -1.1, -1.2, -1.3, -1.5, -1.6, -1.7, -1.6, -1.3,
          -1.1, -1.0, -1.0, -1.1, -1.2, -1.4, -1.6, -1.7, -1.8, -1.6,
          -1.3, -1.1, -1.0, -1.0, -1.1, -1.2, -1.3, -1.4, -1.5, -1.6,
          -1.6, -1.5, -1.3, -1.2, -1.0, -1.0, -1.1, -1.2, -1.4, -1.6,
          -1.7, -1.8, -1.7, -1.5, -1.3, -1.1, -1.0, -0.9, -1.0, -1.1,
          -1.2, -1.4, -1.5, -1.6, -1.5, -1.3, -1.2, -1.1, -1.0, -1.0,
          -1.1, -1.2, -1.3, -1.4, -1.5, -1.6, -1.5, -1.4, -1.2, -1.1,
          -1.0, -1.1, -1.2, -1.3]
WR_X = [-1.3, -1.1, -0.4, 0.5, 1.1, 1.3, 0.8, 0.0, -1.0, -1.3,
        -1.3, -1.4, -1.2, -0.3, 0.8, 1.0, 0.6, -0.3, -1.1, -1.2,
        -1.3, -1.3, -1.1, -0.2, 0.9, 1.2, 1.0, 0.3, -0.8, -1.3,
        -1.4, -1.4, -1.3, -1.0, 0.2, 1.1, 1.2, 0.8, -0.1, -1.0,
        -1.2, -1.3, -1.4, -1.4, -1.4, -1.4, -1.4, -1.3, -1.3, -1.3,
        -1.2, -1.2, -1.2, -1.3, -1.1, 0.0, 1.0, 1.1, 0.6, -0.3,
        -1.1, -1.4, -1.5, -1.5, -1.4, -1.2, -0.5, 0.6, 1.2, 1.0,
        0.3, -0.6, -1.1, -1.3, -1.3, -1.3, -1.2, -0.6, 0.6, 1.2,
        0.9, 0.0, -0.8, -1.3, -1.4, -1.4, -1.4, -1.3, -0.8, 0.5,
        1.2, 1.3, 1.0, 0.5, -0.3, -1.0, -1.3, -1.4, -1.4, -0.7,
        0.5, 0.9, 0.6, 0.0, -0.8, -1.2, -1.3, -1.3, -1.2, -0.5,
        0.8, 1.0, 0.5, -0.4, -1.1, -1.3, -1.3, -1.2, -0.4, 0.8,
        1.3, 1.2, 0.6, -0.1, -0.9, -1.3, -1.4, -1.4, -1.4, -1.4,
        -1.3, -1.0, 0.2, 1.1, 0.9, 0.3, -0.6, -1.1, -1.3, -1.3,
        -1.3, -1.3, -1.2, -0.8, 0.5, 1.2, 1.3, 0.7, -0.2, -1.0,
        -1.2, -1.3, -1.3, -1.3, -1.1, -0.2, 1.0, 1.2, 0.8, 0.1,
        -0.6, -1.1, -1.3, -1.3, -1.3, -1.3, -1.2, -0.6, 0.6, 1.2,
        1.1, 0.4, -0.3, -0.9, -1.2, -1.3, -1.3, -1.3, -1.2, -0.6,
        0.4, 1.1, 1.4, 1.3, 0.7, 0.0, -0.8, -1.2, -1.3, -1.3,
        -1.3, -1.2, -0.6, 0.7, 1.4, 1.2, 0.4, -0.5, -1.1, -1.3,
        -1.3, -1.3, -1.2, -0.8, 0.6, 1.5, 1.6, 1.0, 0.2, -0.6,
        -1.1, -1.2, -1.2, -1.2]
WR_Y = [-0.8, -0.7, 1.2, 2.4, 2.7, 2.3, 2.4, 2.2, -0.5, -0.8,
        -0.9, -0.6, 1.8, 2.3, 2.4, 2.3, 2.3, 1.2, -0.6, -0.8,
        -0.9, -0.6, 2.0, 2.4, 2.7, 2.6, 2.4, 2.3, 0.2, -0.7,
        -0.9, -1.0, -1.0, -0.5, 2.4, 2.9, 3.0, 2.9, 2.2, 0.3,
        -0.8, -1.0, -1.1, -1.0, -1.1, -1.1, -1.1, -1.1, -1.1, -1.2,
        -1.0, -1.1, -1.0, -1.1, 0.5, 2.7, 3.1, 3.0, 2.8, 2.2,
        -0.3, -0.9, -1.0, -1.0, -1.1, -0.6, 2.4, 2.9, 2.8, 2.5,
        2.4, 0.6, -0.9, -1.0, -1.1, -1.1, -1.0, 1.5, 2.4, 2.5,
        2.3, 2.1, 0.2, -0.9, -1.0, -1.0, -1.1, -1.1, 0.0, 3.1,
        2.3, 2.1, 2.0, 1.6, 0.3, -0.8, -1.0, -1.0, -0.9, 2.0,
        2.8, 2.8, 2.5, 0.8, -0.6, -1.0, -1.0, -1.0, -0.2, 2.8,
        3.0, 2.8, 1.3, -0.3, -1.0, -0.9, -1.0, 0.2, 3.3, 2.9,
        2.8, 2.8, 2.9, 1.2, -0.2, -0.8, -0.9, -0.9, -1.0, -1.0,
        -0.9, 0.0, 3.1, 3.0, 2.9, 2.4, 0.2, -0.8, -1.0, -1.0,
        -1.0, -1.0, -0.9, 0.5, 3.4, 3.7, 3.4, 3.1, 0.6, -0.7,
        -1.0, -1.0, -1.0, -1.0, -0.5, 2.3, 3.6, 3.3, 3.2, 2.8,
        0.6, -0.6, -1.0, -1.0, -1.0, -1.0, -0.8, 1.6, 3.5, 3.2,
        3.1, 2.9, 1.9, 0.2, -0.8, -1.0, -1.0, -1.0, -0.8, 1.2,
        3.0, 3.3, 2.8, 2.5, 2.6, 0.8, -0.6, -1.0, -1.0, -1.0,
        -1.0, -0.7, 2.0, 3.3, 3.1, 2.8, 1.0, -0.4, -1.0, -1.0,
        -1.0, -1.0, -1.0, 0.3, 3.1, 3.7, 3.2, 3.0, 1.4, 0.0,
        -0.7, -1.0, -1.0, -1.0]
WR_Z = [-1.3, -1.1, 0.3, 1.1, 1.5, 1.9, 1.6, 1.0, -1.0, -1.3,
        -1.4, -1.2, 0.5, 1.1, 1.2, 1.0, 0.9, 0.2, -1.2, -1.5,
        -1.3, -0.8, 0.7, 1.0, 1.2, 1.2, 1.1, 0.8, -1.0, -1.6,
        -1.9, -2.1, -2.0, -1.0, 0.6, 1.2, 1.2, 1.0, 0.6, -0.8,
        -1.6, -1.8, -2.1, -2.2, -2.2, -2.1, -2.2, -2.3, -2.5, -2.4,
        -2.5, -2.5, -2.4, -2.3, 0.2, 1.6, 1.8, 1.5, 1.6, 1.0,
        -1.0, -1.4, -1.6, -1.5, -1.3, -0.6, 1.0, 1.3, 1.3, 1.4,
        1.2, -0.5, -1.5, -1.6, -1.8, -1.8, -1.6, 0.4, 1.3, 1.5,
        1.6, 1.2, -0.8, -1.7, -1.8, -1.9, -1.8, -1.2, 0.6, 2.0,
        2.1, 1.8, 1.7, 1.4, 0.4, -1.0, -1.5, -1.6, -1.2, 1.0,
        2.6, 2.9, 2.2, 1.0, -0.5, -1.6, -1.8, -1.8, -1.0, 1.0,
        1.1, 1.3, 0.4, -0.9, -1.6, -1.9, -2.0, -1.0, 1.2, 1.6,
        1.7, 1.5, 1.3, 0.5, -0.8, -1.8, -2.4, -2.6, -2.5, -2.2,
        -1.8, -0.2, 1.5, 1.6, 1.9, 1.2, -0.5, -1.6, -2.1, -2.3,
        -2.3, -2.2, -1.5, -0.2, 0.8, 1.3, 1.4, 1.2, 0.2, -1.0,
        -1.3, -1.2, -1.0, -1.5, -0.3, 1.0, 1.4, 1.6, 1.3, 0.6,
        -0.5, -1.3, -1.7, -1.8, -2.0, -2.3, -1.7, -0.2, 1.1, 1.3,
        1.4, 1.1, 0.3, -0.6, -1.3, -1.5, -1.6, -1.5, -1.1, -0.2,
        1.0, 1.4, 1.6, 1.9, 1.5, 0.0, -1.1, -1.5, -1.6, -1.5,
        -1.5, -1.0, 0.5, 1.0, 1.3, 1.2, 0.6, -0.7, -1.4, -1.5,
        -1.4, -1.3, -1.0, -0.2, 0.6, 1.2, 1.6, 1.1, 0.2, -0.7,
        -1.0, -1.2, -1.3, -1.4]

ERR_COLORS = ["#ff7f0e", "#d62728", "#e377c2", "#7f7f7f", "#bcbd22",
              "#4a8d88", "#17becf", "black", "#613f8d"]
FEAT_COLORS = ["#ff7f0e", "#1f77b4", "#d62728", "#2ca02c", "#e377c2", "#7f7f7f",
               "#bcbd22", "#4a8d88", "#17becf", "black", "#613f8d"]


def style(ax):
    for s in ax.spines.values():
        s.set_linewidth(1.6)
    ax.tick_params(which="major", direction="out", length=9, width=1.2,
                   labelsize=15.5, pad=8)
    ax.tick_params(which="minor", direction="out", length=4.5, width=1.0)
    ax.axvspan(SPAN[0], SPAN[1], color="lightgreen", alpha=0.5, lw=0, zorder=0)
    ax.yaxis.set_label_coords(-0.0404, 0.5)


def legend(ax):
    leg = ax.legend(loc="upper left", bbox_to_anchor=(1.004, 1.0), borderaxespad=0,
                    fontsize=16.3, labelspacing=0.36, handlelength=2.1)
    leg.get_frame().set_linewidth(2)
    leg.get_frame().set_edgecolor("0.8")


def main():
    fig = plt.figure(figsize=(19.65, 10.76), dpi=100)
    ax1 = fig.add_axes([0.0657, 0.724, 0.8313, 0.2667])
    ax2 = fig.add_axes([0.0657, 0.405, 0.8313, 0.264], sharex=ax1)
    ax3 = fig.add_axes([0.0657, 0.0855, 0.8313, 0.2655], sharex=ax1)

    # phase panel
    ext = sorted(zip(ACMP_T + WOBBLE_T, ACMP_V + WOBBLE_V))
    ax1.plot([p[0] for p in ext], [p[1] for p in ext], color="c", lw=4, label="extracted")
    ax1.plot(ACMP_T, ACMP_V, color="black", lw=2.3, label="ACMP")
    ax1.plot(FRAMES, DIFF, color="red", lw=1.8, label="difference")
    ax1.set_ylim(0, 2)
    ax1.set_yticks([0, 1, 2])
    ax1.set_yticklabels([r"$0\pi$", r"$1\pi$", r"$2\pi$"])
    ax1.yaxis.set_minor_locator(MultipleLocator(0.25))
    ax1.set_ylabel("Phase (rad)", fontsize=23)

    # reconstruction error panel
    errs = [ERR_UA_PNT, ERR_FA_PNT, ERR_TS_FFX, ERR_TS_TURN, ERR_TS_LFX,
            ERR_FA_PRN, ERR_WR_X, ERR_WR_Y, ERR_WR_Z]
    for vals, lab, col in zip(errs, ERR_LABELS, ERR_COLORS):
        ax2.plot(FRAMES, vals, color=col, lw=1.8, label=lab)
    ax2.set_ylim(0, 16.07)
    ax2.set_yticks([0, 5, 10, 15])
    ax2.set_ylabel("Scaled\nreconstruction error", fontsize=23)

    # feature panel
    feats = [UA_AZEQ1, UA_AZEQ2, FA_AZEQ1, FA_AZEQ2, TS_FFX, TS_TURN,
             TS_LFX, FA_PRN, WR_X, WR_Y, WR_Z]
    for vals, lab, col in zip(feats, FEAT_LABELS, FEAT_COLORS):
        ax3.plot(FRAMES, vals, color=col, lw=1.4, label=lab)
    ax3.set_ylim(-5.5, 4)
    ax3.set_yticks([-4, -2, 0, 2, 4])
    ax3.set_ylabel("Normalized features", fontsize=23)
    ax3.set_xlabel("Time (frame)", fontsize=23, labelpad=11)

    ax3.set_xlim(0, 2127)
    ax3.set_xticks(range(0, 2001, 250))
    for ax in (ax1, ax2, ax3):
        style(ax)
        legend(ax)
    ax1.tick_params(labelbottom=False)
    ax2.tick_params(labelbottom=False)

    fig.savefig("out.png", dpi=100)


if __name__ == "__main__":
    main()
